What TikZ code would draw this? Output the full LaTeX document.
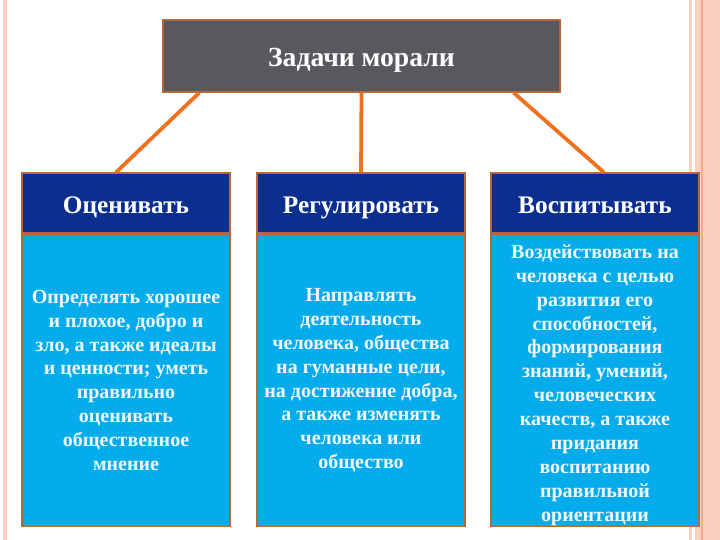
\documentclass[tikz,border=0pt]{standalone}
\usepackage{fontspec}
\setmainfont{Liberation Serif}
\usetikzlibrary{positioning}

\definecolor{topgray}{HTML}{58595F}
\definecolor{headnavy}{HTML}{0B2F8F}
\definecolor{bodysky}{HTML}{05ACEC}
\definecolor{edgebrown}{HTML}{B0683E}
\definecolor{linkorange}{HTML}{F0701E}
\definecolor{pinkband}{HTML}{FCD0BE}
\definecolor{pinkdark}{HTML}{F3A98A}
\definecolor{bodytext}{HTML}{F0F8FF}

\tikzset{
  head/.style={draw=edgebrown, line width=1.1pt, fill=headnavy, text=white,
    minimum width=176.8pt, minimum height=51pt, inner sep=0pt,
    text height=20pt, text depth=2pt,
    font=\fontsize{21.5}{24}\selectfont\bfseries},
  body/.style={draw=edgebrown, line width=1.1pt, fill=bodysky, text=bodytext,
    minimum width=176.8pt, minimum height=248.2pt, inner sep=0pt,
    align=center, font=\fontsize{17}{20.3}\selectfont\bfseries},
  link/.style={draw=linkorange, line width=3.2pt}
}

\begin{document}
\begin{tikzpicture}[x=0.85pt, y=-0.85pt]
  \useasboundingbox (0,0) rectangle (720,540);
  % page border
  \fill[pinkband] (3,0) rectangle (7,540);
  \fill[pinkband] (689,0) rectangle (692,540);
  \fill[pinkband] (695,0) rectangle (720,540);
  \fill[pinkdark] (700.5,0) rectangle (702.5,540);

  \node[draw=edgebrown, line width=1.1pt, fill=topgray, text=white,
    minimum width=337.5pt, minimum height=61.2pt, inner sep=0pt,
    text height=21pt, text depth=4pt,
    font=\fontsize{23.5}{26}\selectfont\bfseries] (top) at (361.5,56) {Задачи морали};

  \node[head] (h1) at (126,203) {Оценивать};
  \node[head] (h2) at (361,203) {Регулировать};
  \node[head] (h3) at (595,203) {Воспитывать};

  \node[body, below=0pt of h1] (b1) {Определять хорошее\\ и плохое, добро и\\ зло, а также идеалы\\ и ценности; уметь\\ правильно\\ оценивать\\ общественное\\ мнение};
  \node[body, below=0pt of h2] (b2) {Направлять\\ деятельность\\ человека, общества\\ на гуманные цели,\\ на достижение добра,\\ а также изменять\\ человека или\\ общество};
  \node[body, below=0pt of h3] (b3) {};
  \node[body, draw=none, fill=none, minimum height=0pt, yshift=-4pt] (t3) at (b3.center) {Воздействовать на\\ человека с целью\\ развития его\\ способностей,\\ формирования\\ знаний, умений,\\ человеческих\\ качеств, а также\\ придания\\ воспитанию\\ правильной\\ ориентации};

  \draw[link] ([xshift=31.5pt]top.south west) -- ([xshift=-8.5pt]h1.north);
  \draw[link] (top.south) -- (h2.north);
  \draw[link] ([xshift=-40pt]top.south east) -- ([xshift=7.6pt]h3.north);
\end{tikzpicture}
\end{document}
